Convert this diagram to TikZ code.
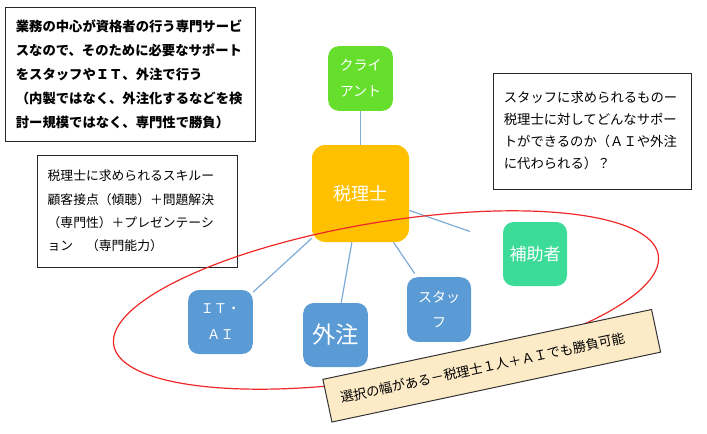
\documentclass[tikz,border=0pt]{standalone}
\usepackage{fontspec}
\setmainfont{Noto Sans CJK JP}
\usepackage{tikz}
\usetikzlibrary{positioning}
\definecolor{ClientGreen}{HTML}{66DE2C}
\definecolor{TaxOrange}{HTML}{FFC000}
\definecolor{AideMint}{HTML}{3DDB98}
\definecolor{SupportBlue}{HTML}{5B9BD5}
\definecolor{LinkBlue}{HTML}{7EABD8}
\definecolor{RingRed}{HTML}{F02828}
\definecolor{NoteCream}{HTML}{FCEBC6}

\begin{document}
\begin{tikzpicture}[x=0.75pt, y=-0.75pt,
  role/.style={rounded corners=8pt, minimum width=48.5pt, minimum height=48.5pt,
               inner sep=1pt, text=white, align=center},
  note/.style={draw=black!85, line width=0.75pt, align=left,
               inner xsep=8pt, inner ysep=4pt},
  link/.style={draw=LinkBlue, line width=0.9pt},
  ring/.style={draw=RingRed, line width=0.9pt}
]
  \useasboundingbox (0,0) rectangle (707,433);

  % notes
  \node[note, text width=172pt, minimum height=101pt,
        font=\fontsize{10pt}{18pt}\selectfont\bfseries] (core) at (130.5,74.5)
    {業務の中心が資格者の行う専門サービ\\スなので、そのために必要なサポート\\をスタッフやＩＴ、外注で行う\\（内製ではなく、外注化するなどを検\\討ー規模ではなく、専門性で勝負）};
  \node[note, text width=134pt, minimum height=84pt,
        font=\fontsize{9.6pt}{17.5pt}\selectfont] (skills) at (137,211)
    {税理士に求められるスキルー\\顧客接点（傾聴）＋問題解決\\（専門性）＋プレゼンテーシ\\ョン　（専門能力）};
  \node[note, text width=133pt, minimum height=87pt,
        font=\fontsize{10pt}{16.5pt}\selectfont] (staffq) at (592.5,131)
    {スタッフに求められるものー\\税理士に対してどんなサポー\\トができるのか（ＡＩや外注\\に代わられる）？};

  % roles
  \node[role, fill=ClientGreen, font=\fontsize{10.5pt}{19.5pt}\selectfont]
    (client) at (360.5,78.5) {クライ\\アント};
  \node[role, fill=TaxOrange, rounded corners=10pt, minimum width=72.75pt,
        minimum height=72.75pt, font=\fontsize{13.5pt}{16pt}\selectfont]
    (zeirishi) at (360.5,193.5) {税理士};
  \node[role, fill=AideMint, minimum width=48pt, minimum height=48pt,
        font=\fontsize{12.75pt}{15pt}\selectfont] (aide) at (535,254) {補助者};
  \node[role, fill=SupportBlue, minimum height=48pt,
        font=\fontsize{10pt}{19.5pt}\selectfont] (itai) at (220.5,322) {ＩＴ・\\ＡＩ};
  \node[role, fill=SupportBlue, minimum height=48pt,
        font=\fontsize{17.5pt}{20pt}\selectfont] (outsrc) at (335.5,335) {外注};
  \node[role, fill=SupportBlue, minimum width=48pt,
        font=\fontsize{10.5pt}{19pt}\selectfont] (staff) at (439,309.5) {スタッ\\フ};

  \draw[link] (client) -- (zeirishi);
  \draw[link, shorten >=26pt] (zeirishi) -- (aide);
  \draw[link] (zeirishi) -- (itai);
  \draw[link] (zeirishi) -- (outsrc);
  \draw[link, shorten >=3pt] (zeirishi) -- (staff);

  % choice ring
  \draw[ring, rotate around={9.4:(386,300)}] (386,300)
    ellipse [x radius=207pt, y radius=58.5pt];
  \node[draw=black!80, line width=0.75pt, fill=NoteCream, rotate=12,
        text width=232pt, minimum height=32.7pt, inner xsep=10pt, align=left,
        font=\fontsize{9.9pt}{12pt}\selectfont] (choice) at (491.75,365.75)
    {選択の幅がある－税理士１人＋ＡＩでも勝負可能};
\end{tikzpicture}
\end{document}
